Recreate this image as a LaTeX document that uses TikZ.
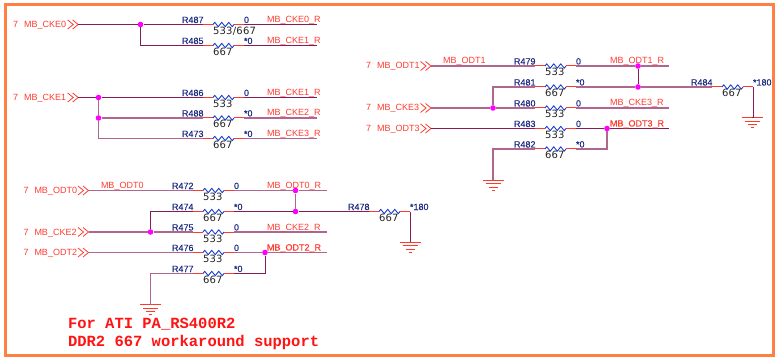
\documentclass[tikz,border=0pt]{standalone}
\usepackage{fontspec}
\setmainfont{Liberation Sans}
\newfontfamily\notefont[BoldFont={Liberation Mono Bold}]{Liberation Mono}
\newfontfamily\valfont[LetterSpace=2.5]{DejaVu Sans}
\newfontfamily\heavyfont[FakeBold=0.35]{Liberation Sans}
\newfontfamily\refdesfont[FakeBold=0.25]{Liberation Sans}
\definecolor{frameC}{HTML}{FF8040}
\definecolor{wireD}{HTML}{841C55}
\definecolor{wireL}{HTML}{B0668F}
\definecolor{leadC}{HTML}{FF3A2A}
\definecolor{zigC}{HTML}{1A3FD0}
\definecolor{txtR}{HTML}{FF3B30}
\definecolor{txtN}{HTML}{1C2A80}
\definecolor{txtB}{HTML}{222222}
\definecolor{dotC}{HTML}{FF00FF}
\definecolor{noteC}{HTML}{FF1414}
\tikzset{
  x=1pt,y=-1pt,
  framebox/.style={draw=frameC,line width=3.2pt},
  wd/.style={draw=wireD,line width=0.9pt},
  wl/.style={draw=wireL,line width=1.3pt},
  lead/.style={draw=leadC,line width=1pt},
  zig/.style={draw=zigC,line width=0.9pt,line join=round},
  chev/.style={draw=txtR,line width=0.8pt},
  gnd/.style={draw=leadC,line width=0.9pt},
  txt/.style={inner sep=0pt,outer sep=0pt,font=\fontsize{9}{10}\selectfont},
  netlabel/.style={txt,text=txtR,anchor=base west},
  refdes/.style={txt,text=txtN,anchor=base east,font=\refdesfont\fontsize{9}{10}\selectfont},
  valtxt/.style={txt,text=txtN,anchor=base west,font=\refdesfont\fontsize{9}{10}\selectfont},
  sizetxt/.style={inner sep=0pt,outer sep=0pt,text=txtB,anchor=base west,font=\valfont\fontsize{10}{11}\selectfont},
  jdot/.style={circle,fill=dotC,inner sep=0pt,minimum size=5.6pt},
  note/.style={inner sep=0pt,outer sep=0pt,text=noteC,anchor=base west,font=\notefont\bfseries\fontsize{15.5}{17}\selectfont},
}
% name, x of body left, y, size text, value
\newcommand{\resistor}[5]{%
  \coordinate (#1l) at ({#2-10},#3);
  \coordinate (#1a) at (#2,#3);
  \coordinate (#1b) at ({#2+21},#3);
  \coordinate (#1r) at ({#2+31},#3);
  \draw[lead] (#1l) -- (#1a);
  \draw[lead] (#1b) -- (#1r);
  \draw[zig] (#1a) -- ++(1.75,-2.2) -- ++(3.5,4.4) -- ++(3.5,-4.4) -- ++(3.5,4.4) -- ++(3.5,-4.4) -- ++(3.5,4.4) -- (#1b);
  \node[refdes] (#1t) at ({#2-9.5},{#3-1.5}) {#1};
  \node[valtxt] (#1v) at ({#2+31},{#3-1.5}) {#5};
  \node[sizetxt] (#1s) at (#2,{#3+10}) {#4};
}
% id, chevron left x, y, label
\newcommand{\porthere}[4]{%
  \node[netlabel] (#1n) at ({#2-54.5},{#3+3}) {7};
  \node[netlabel] (#1t) at ({#2-43.5},{#3+3}) {#4};
  \draw[chev] (#2,{#3-4.5}) -- ({#2+5.5},#3) -- (#2,{#3+4.5});
  \draw[chev] ({#2+5},{#3-4.5}) -- ({#2+10.5},#3) -- ({#2+5},{#3+4.5});
  \coordinate (#1) at ({#2+10.5},#3);
}
\newcommand{\ground}[3]{%
  \coordinate (#1) at (#2,#3);
  \draw[gnd] ({#2-10.5},#3) -- ({#2+10.5},#3);
  \draw[gnd] ({#2-7.5},{#3+3.5}) -- ({#2+7.5},{#3+3.5});
  \draw[gnd] ({#2-4.5},{#3+7}) -- ({#2+4.5},{#3+7});
  \draw[gnd] ({#2-1.5},{#3+10}) -- ({#2+1.5},{#3+10});
}
\begin{document}
\begin{tikzpicture}
\useasboundingbox (0,0) rectangle (775,358);
\draw[framebox] (5.6,4.6) rectangle (773.4,355.4);

% ---- group 1
\porthere{pA}{67.7}{24.5}{MB\_CKE0}
\resistor{R487}{213}{24.5}{533/667}{0}
\resistor{R485}{213}{45.5}{667}{*0}
\coordinate (eA) at (317,24.5);
\coordinate (eB) at (317,45.5);
\node[jdot] (jA) at (140.5,24.5) {};
\draw[wd] (pA) -- (jA) -- (R487l);
\draw[wd] (jA) |- (R485l);
\draw[wd] (R487r) -- (eA);
\draw[wd] (R485r) -- (eB);
\node[netlabel] (lA) at (267,22.5) {MB\_CKE0\_R};
\node[netlabel] (lB) at (267,43.5) {MB\_CKE1\_R};

% ---- group 2
\porthere{pB}{67.7}{97.5}{MB\_CKE1}
\resistor{R486}{213}{97.5}{533}{0}
\resistor{R488}{213}{118}{667}{*0}
\resistor{R473}{213}{138.5}{667}{*0}
\coordinate (eC) at (317,97.5);
\coordinate (eD) at (317,118);
\coordinate (eE) at (317,138.5);
\node[jdot] (jB) at (98.5,97.5) {};
\node[jdot] (jC) at (98.5,118) {};
\draw[wl] (jB) -- (jC);
\draw[wl] (jC) |- (R473l);
\draw[wd] (pB) -- (jB) -- (R486l);
\draw[wl] (jC) -- (R488l);
\draw[wd] (R486r) -- (eC);
\draw[wl] (R488r) -- (eD);
\draw[wl] (R473r) -- (eE);
\node[netlabel] (lC) at (267,95.5) {MB\_CKE1\_R};
\node[netlabel] (lD) at (267,116) {MB\_CKE2\_R};
\node[netlabel] (lE) at (267,136.5) {MB\_CKE3\_R};

% ---- group 3
\porthere{pC}{78}{190.5}{MB\_ODT0}
\porthere{pD}{78}{232}{MB\_CKE2}
\porthere{pE}{78}{252.5}{MB\_ODT2}
\resistor{R472}{203}{190.5}{533}{0}
\resistor{R474}{203}{211.5}{667}{*0}
\resistor{R475}{203}{232}{533}{0}
\resistor{R476}{203}{252.5}{533}{0}
\resistor{R477}{203}{273.5}{667}{*0}
\resistor{R478}{379}{211.5}{667}{*180}
\coordinate (eF) at (327,190.5);
\coordinate (eG) at (327,232);
\coordinate (eH) at (327,252.5);
\coordinate (cA) at (150.5,211.5);
\coordinate (cB) at (150.5,273.5);
\coordinate (cC) at (265,273.5);
\node[jdot] (jD) at (295.5,190.5) {};
\node[jdot] (jE) at (295.5,211.5) {};
\node[jdot] (jF) at (150.5,232) {};
\node[jdot] (jG) at (265,252.5) {};
\ground{gA}{410}{242}
\ground{gB}{150.5}{304.5}
\draw[wl] (pC) -- (R472l);
\draw[wl] (R472r) -- (jD) -- (eF);
\draw[wl] (jD) -- (jE);
\draw[wd] (jF) -- (cA) -- (R474l);
\draw[wd] (R474r) -- (jE) -- (R478l);
\draw[wl] (pD) -- (jF) -- (R475l);
\draw[wl] (R475r) -- (eG);
\draw[wl] (pE) -- (R476l);
\draw[wl] (R476r) -- (jG) -- (eH);
\draw[wl] (gB) -- (cB) -- (R477l);
\draw[wd] (R477r) -- (cC) -- (jG);
\draw[wd] (R478r) |- (gA);
\node[netlabel] (lF) at (101,188.5) {MB\_ODT0};
\node[netlabel] (lG) at (267,188.5) {MB\_ODT0\_R};
\node[netlabel] (lH) at (267,230) {MB\_CKE2\_R};
\node[netlabel,font=\heavyfont\fontsize{9}{10}\selectfont] (lI) at (267,250.5) {MB\_ODT2\_R};

% ---- group 4
\porthere{pF}{420.5}{66}{MB\_ODT1}
\porthere{pG}{420.5}{108}{MB\_CKE3}
\porthere{pH}{420.5}{128.5}{MB\_ODT3}
\resistor{R479}{545}{66}{533}{0}
\resistor{R481}{545}{87}{667}{*0}
\resistor{R480}{545}{108}{533}{0}
\resistor{R483}{545}{128.5}{533}{0}
\resistor{R482}{545}{149}{667}{*0}
\resistor{R484}{722}{87}{667}{*180}
\coordinate (eI) at (669,66);
\coordinate (eJ) at (669,108);
\coordinate (eK) at (669,128.5);
\coordinate (cD) at (493,87);
\coordinate (cE) at (493,149);
\coordinate (cF) at (607,149);
\node[jdot] (jH) at (638,66) {};
\node[jdot] (jI) at (638,87) {};
\node[jdot] (jJ) at (493,108) {};
\node[jdot] (jK) at (607,128.5) {};
\ground{gC}{752}{117.5}
\ground{gD}{493}{180}
\draw[wl] (pF) -- (R479l);
\draw[wl] (R479r) -- (jH) -- (eI);
\draw[wd] (jH) -- (jI);
\draw[wl] (jJ) -- (cD) -- (R481l);
\draw[wl] (R481r) -- (jI) -- (R484l);
\draw[wl] (pG) -- (jJ) -- (R480l);
\draw[wl] (R480r) -- (eJ);
\draw[wd] (pH) -- (R483l);
\draw[wd] (R483r) -- (jK) -- (eK);
\draw[wl] (gD) -- (cE) -- (R482l);
\draw[wl] (R482r) -- (cF) -- (jK);
\draw[wd] (R484r) |- (gC);
\node[netlabel] (lJ) at (443,64) {MB\_ODT1};
\node[netlabel] (lK) at (610,64) {MB\_ODT1\_R};
\node[netlabel] (lL) at (610,106) {MB\_CKE3\_R};
\node[netlabel,font=\heavyfont\fontsize{9}{10}\selectfont] (lM) at (610,126.5) {MB\_ODT3\_R};

% ---- note
\node[note] (nA) at (68,328) {For ATI PA\_RS400R2};
\node[note] (nB) at (68,346) {DDR2 667 workaround support};
\end{tikzpicture}
\end{document}
